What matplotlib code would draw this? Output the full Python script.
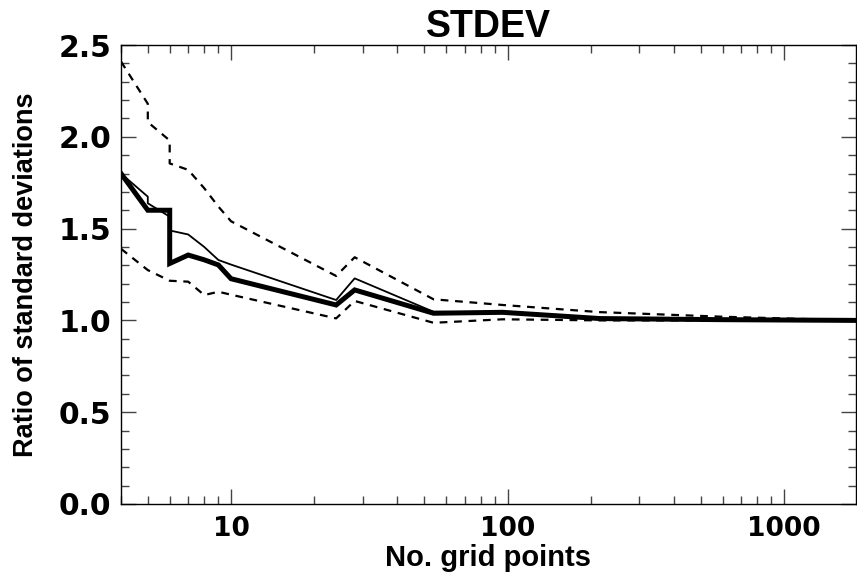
import matplotlib
matplotlib.use("Agg")
import matplotlib.pyplot as plt
from matplotlib.ticker import FixedLocator, LogLocator, NullFormatter, MultipleLocator, FormatStrFormatter

plt.rcParams['font.family'] = ['Liberation Sans', 'DejaVu Sans']

grid_points = [4, 5, 5, 6, 6, 7, 8, 9, 10, 24, 28, 54, 96, 216, 600, 1800]
ratio_mean  = [1.80, 1.60, 1.60, 1.60, 1.31, 1.356, 1.33, 1.302, 1.227, 1.084, 1.166, 1.039, 1.044, 1.010, 1.004, 1.0]
ratio_med   = [1.80, 1.674, 1.638, 1.565, 1.49, 1.468, 1.40, 1.329, 1.304, 1.111, 1.229, 1.047, 1.045, 1.012, 1.004, 1.0]
ratio_upper = [2.41, 2.18, 2.08, 1.98, 1.855, 1.82, 1.72, 1.62, 1.54, 1.242, 1.344, 1.115, 1.084, 1.045, 1.020, 1.0]
ratio_lower = [1.39, 1.274, 1.274, 1.216, 1.216, 1.211, 1.138, 1.156, 1.14, 1.011, 1.106, 0.987, 1.006, 1.0, 1.0, 1.0]

title = "STDEV"
xlabel = "No. grid points"
ylabel = "Ratio of standard deviations"
xticks = [10, 100, 1000]
xticklabels = ["10", "100", "1000"]

fig = plt.figure(figsize=(8.57, 5.72), dpi=100)
ax = fig.add_axes([0.1412, 0.1189, 0.8575, 0.8024])

ax.plot(grid_points, ratio_upper, color='black', lw=1.6, ls=(0, (3.5, 3)))
ax.plot(grid_points, ratio_lower, color='black', lw=1.6, ls=(0, (3.5, 3)))
ax.plot(grid_points, ratio_med, color='black', lw=1.3)
ax.plot(grid_points, ratio_mean, color='black', lw=3.6, solid_joinstyle='miter')

ax.set_xscale('log')
ax.set_xlim(4, 1820)
ax.set_ylim(0, 2.5)

ax.xaxis.set_major_locator(FixedLocator(xticks))
ax.set_xticklabels(xticklabels)
ax.xaxis.set_minor_locator(LogLocator(base=10, subs=range(2, 10)))
ax.xaxis.set_minor_formatter(NullFormatter())
ax.yaxis.set_major_locator(MultipleLocator(0.5))
ax.yaxis.set_minor_locator(MultipleLocator(0.1))
ax.yaxis.set_major_formatter(FormatStrFormatter('%.1f'))

ax.tick_params(which='both', direction='in', top=True, right=True, width=1, color='#444444')
ax.tick_params(which='major', length=11)
ax.tick_params(which='minor', length=6)
ax.tick_params(axis='y', which='major', labelsize=21.5, pad=7)
ax.tick_params(axis='x', which='major', labelsize=19, pad=9)
for lab in ax.get_xticklabels() + ax.get_yticklabels():
    lab.set_fontweight('bold')
    lab.set_family('DejaVu Sans')
for s in ax.spines.values():
    s.set_linewidth(1.0)

ax.set_title(title, fontsize=27, fontweight='bold', pad=6)
ax.set_xlabel(xlabel, fontsize=21, fontweight='bold', labelpad=1)
ax.set_ylabel(ylabel, fontsize=19.5, fontweight='bold')
ax.yaxis.set_label_coords(-0.112, 0.5)

fig.savefig("out.png", dpi=100)
